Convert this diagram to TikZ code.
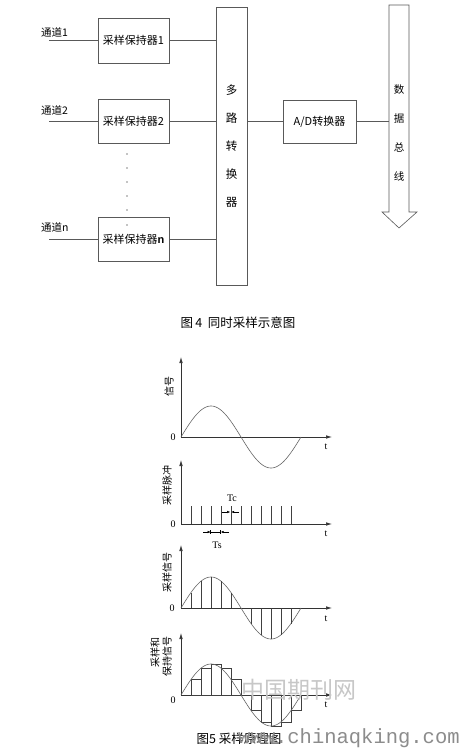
\documentclass[tikz,border=0pt]{standalone}
\usepackage{fontspec}
\usetikzlibrary{arrows.meta}
\newfontfamily\cjk{Noto Sans CJK SC}
\newfontfamily\lsans{Liberation Sans}
\newfontfamily\lserif{Liberation Serif}
\newfontfamily\lmono{Liberation Mono}
\begin{document}
\begin{tikzpicture}[x=1pt,y=-1pt,
  box/.style={draw=black!65, line width=0.6pt, inner sep=0pt, font=\cjk\fontsize{11}{12}\selectfont},
  wire/.style={draw=black!65, line width=0.6pt},
  lab/.style={font=\cjk\fontsize{10.5}{12}\selectfont, inner sep=0pt},
  glab/.style={font=\cjk\fontsize{10}{11}\selectfont, inner sep=0pt, rotate=90},
  num/.style={font=\lserif\fontsize{10}{11}\selectfont, inner sep=0pt},
  axis/.style={draw=black!80, line width=0.6pt, -{Latex[length=6pt,width=3.5pt]}},
  curve/.style={draw=black!60, line width=0.6pt},
  captext/.style={font=\cjk\fontsize{12.5}{14}\selectfont, inner sep=0pt}]
\useasboundingbox (0,0) rectangle (464,751);
\fill[white] (0,0) rectangle (464,751);
% ---------- Figure 4 ----------
\node[box, minimum width=71pt, minimum height=45pt] (b1) at (133.5,40.5) {采样保持器1};
\node[box, minimum width=71pt, minimum height=44pt] (b2) at (133.5,121) {采样保持器2};
\node[box, minimum width=71pt, minimum height=44pt] (bn) at (133.5,239) {采样保持器{\lsans\bfseries n}};
\node[box, minimum width=31pt, minimum height=278pt, align=center, font=\cjk\fontsize{11.5}{12}\selectfont] (mux) at (231.5,146)
  {多\\[16pt]路\\[16pt]转\\[16pt]换\\[16pt]器};
\node[box, minimum width=73pt, minimum height=43pt] (ad) at (319.5,121.5) {A/D转换器};
\node[lab, anchor=west] (c1) at (41,32) {通道1};
\node[lab, anchor=west] (c2) at (41,110) {通道2};
\node[lab, anchor=west] (cn) at (41,227) {通道n};
\coordinate (i1) at (49,40.5);
\coordinate (i2) at (49,121);
\coordinate (in) at (49,239);
\draw[wire] (i1) -- (b1.west);
\draw[wire] (i2) -- (b2.west);
\draw[wire] (in) -- (bn.west);
\draw[wire] (b1.east) -- (b1.east -| mux.west);
\draw[wire] (b2.east) -- (b2.east -| mux.west);
\draw[wire] (bn.east) -- (bn.east -| mux.west);
\draw[wire] (ad.west -| mux.east) -- (ad.west);
\coordinate (busL) at (389,121.5);
\draw[wire] (ad.east) -- (busL);
\draw[wire] (389,5) -- (389,212) -- (382,212) -- (399,228) -- (417,212) -- (409,212) -- (409,5) -- cycle;
\node[lab, align=center] (bus) at (399,133) {数\\[17pt]据\\[17pt]总\\[17pt]线};
\foreach \yy in {154,168,182,196,210,225} \fill[black] (127,\yy) circle (0.6pt);
\node[captext] (cap4) at (238,323) {图\,4\ \ 同时采样示意图};
% ---------- Figure 5, graph 1 ----------
\coordinate (o1) at (181,437);
\draw[axis] (o1) -- (181,357);
\draw[axis] (o1) -- (332,437);
\draw[curve, domain=181:301, samples=80, smooth] plot (\x, {437-31*sin(3*(\x-181))});
\node[num] at (173,437) {0};
\node[num] at (326,447) {t};
\node[glab] at (169,386) {信号};
% ---------- graph 2 ----------
\coordinate (o2) at (181,524);
\draw[axis] (o2) -- (181,460);
\draw[axis] (o2) -- (332,524);
\foreach \k in {1,...,11} \draw[black!75, line width=0.7pt] (181+10*\k,524) -- (181+10*\k,506);
\draw[-{Latex[length=3pt,width=2.5pt]}, line width=0.5pt] (222,512) -- (230.2,512);
\draw[-{Latex[length=3pt,width=2.5pt]}, line width=0.5pt] (239,512) -- (231.2,512);
\node[num] at (232,498) {Tc};
\draw[line width=0.5pt] (210.7,532) -- (220.7,532);
\draw[-{Latex[length=3pt,width=2.5pt]}, line width=0.5pt] (203,532) -- (210.7,532);
\draw[-{Latex[length=3pt,width=2.5pt]}, line width=0.5pt] (229,532) -- (220.7,532);
\draw[line width=0.5pt] (210.7,530) -- (210.7,534) (220.7,530) -- (220.7,534);
\node[num] at (217,545) {Ts};
\node[num] at (173,524) {0};
\node[num] at (326,534) {t};
\node[glab] at (167,485) {采样脉冲};
% ---------- graph 3 ----------
\coordinate (o3) at (181,608);
\draw[axis] (o3) -- (181,545);
\draw[axis] (o3) -- (332,608);
\draw[curve, domain=181:301, samples=80, smooth] plot (\x, {608-31*sin(3*(\x-181))});
\foreach \k in {1,...,11} \draw[black!75, line width=0.6pt] (181+10*\k,608) -- (181+10*\k,{608-31*sin(30*\k)});
\node[num] at (172,608) {0};
\node[num] at (326,619) {t};
\node[glab] at (167,572) {采样信号};
% ---------- graph 4 ----------
\coordinate (o4) at (181,695);
\draw[axis] (o4) -- (181,633);
\draw[axis] (o4) -- (332,695);
\foreach \k in {1,...,11} \draw[black!75, line width=0.6pt] (181+10*\k,695) rectangle (191+10*\k,{695-31*sin(30*\k)});
\draw[curve, domain=181:301, samples=80, smooth] plot (\x, {695-31*sin(3*(\x-181))});
\node[num] at (173,700) {0};
\node[num] at (326,705) {t};
\node[glab] at (155,652) {采样和};
\node[glab] at (167,656) {保持信号};
\node[captext] (cap5) at (239,739) {图5 采样原理图};
% ---------- watermark ----------
\node[font=\cjk\fontsize{23}{24}\selectfont, text=black!22, inner sep=0pt] (wm1) at (299,690) {中国期刊网};
\node[font=\lmono\fontsize{20.5}{22}\selectfont, text=black!45, inner sep=0pt, anchor=base west] (wm2) at (238,743) {www.chinaqking.com};
\end{tikzpicture}
\end{document}
